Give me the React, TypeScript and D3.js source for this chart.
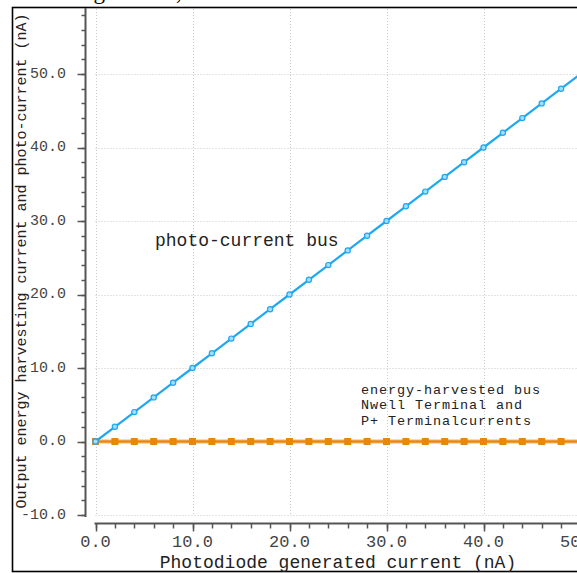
import React from "react";
import * as d3 from "d3";

const xValues = [0, 2, 4, 6, 8, 10, 12, 14, 16, 18, 20, 22, 24, 26, 28, 30, 32, 34, 36, 38, 40, 42, 44, 46, 48, 50];
const photoCurrent = [0, 2, 4, 6, 8, 10, 12, 14, 16, 18, 20, 22, 24, 26, 28, 30, 32, 34, 36, 38, 40, 42, 44, 46, 48, 50];
const harvested = [0, 0, 0, 0, 0, 0, 0, 0, 0, 0, 0, 0, 0, 0, 0, 0, 0, 0, 0, 0, 0, 0, 0, 0, 0, 0];
const xMajorTicks = [0, 10, 20, 30, 40, 50];
const xTickLabels = ["0.0", "10.0", "20.0", "30.0", "40.0", "50.0"];
const yMajorTicks = [-10, 0, 10, 20, 30, 40, 50];
const yTickLabels = ["-10.0", "0.0", "10.0", "20.0", "30.0", "40.0", "50.0"];
const xMinorTicks = [0, 2, 4, 6, 8, 10, 12, 14, 16, 18, 20, 22, 24, 26, 28, 30, 32, 34, 36, 38, 40, 42, 44, 46, 48, 50];
const yMinorTicks = [-10, -8, -6, -4, -2, 0, 2, 4, 6, 8, 10, 12, 14, 16, 18, 20, 22, 24, 26, 28, 30, 32, 34, 36, 38, 40, 42, 44, 46, 48, 50, 52, 54, 56, 58];
const harvestedLabelLines = ["energy-harvested bus", "Nwell Terminal and", "P+ Terminalcurrents"];

const MONO = "'Courier New', 'Liberation Mono', monospace";
const BLUE = "#1ea8f0";
const ORANGE = "#e8870c";

export default function App() {
  const W = 577;
  const H = 573;
  const x = d3.scaleLinear().domain([0, 50]).range([95.5, 580.5]);
  const y = d3.scaleLinear().domain([-10, 50]).range([515, 74]);
  const plotTop = 8;
  const plotBottom = 515;
  const yAxisX = 85.5;
  const xAxisY = 523.5;

  const photoPts = xValues.map((v, i) => [v, photoCurrent[i]] as [number, number]);
  const harvPts = xValues.map((v, i) => [v, harvested[i]] as [number, number]);
  const line = d3
    .line<[number, number]>()
    .x((d) => x(d[0]))
    .y((d) => y(d[1]));

  return (
    <svg
      width={W}
      height={H}
      style={{ position: "absolute", left: 0, top: 0, background: "#fff" }}
    >
      <rect x={0} y={0} width={W} height={H} fill="#fff" />
      {/* partial caption text cut off at top */}
      <text x={82} y={-1} fontFamily="'Liberation Serif', serif" fontSize={23} fill="#000">
        ng current,
      </text>
      {/* frame */}
      <rect x={12.5} y={7.5} width={700} height={564} fill="none" stroke="#000" strokeWidth={1.6} />

      {/* grid */}
      {yMajorTicks.map((t) => (
        <line
          key={"gy" + t}
          x1={x(0)}
          x2={W}
          y1={Math.round(y(t)) + 0.5}
          y2={Math.round(y(t)) + 0.5}
          stroke="#c8c8c8"
          strokeWidth={1}
          strokeDasharray="1,2"
        />
      ))}
      {xMajorTicks.map((t) => (
        <line
          key={"gx" + t}
          x1={Math.round(x(t)) + 0.5}
          x2={Math.round(x(t)) + 0.5}
          y1={plotTop + 1}
          y2={plotBottom}
          stroke="#c8c8c8"
          strokeWidth={1}
          strokeDasharray="1,2"
        />
      ))}

      {/* y axis */}
      <line x1={yAxisX} x2={yAxisX} y1={plotTop} y2={plotBottom + 2} stroke="#555" strokeWidth={2} />
      {yMinorTicks.map((t) => (
        <line
          key={"ymt" + t}
          x1={yAxisX - 4}
          x2={yAxisX}
          y1={Math.round(y(t)) + 0.5}
          y2={Math.round(y(t)) + 0.5}
          stroke="#555"
          strokeWidth={1.5}
        />
      ))}
      {yMajorTicks.map((t, i) => (
        <g key={"yt" + t}>
          <line
            x1={yAxisX - 8}
            x2={yAxisX}
            y1={Math.round(y(t)) + 0.5}
            y2={Math.round(y(t)) + 0.5}
            stroke="#555"
            strokeWidth={1.5}
          />
          <text
            x={66}
            y={y(t)}
            textAnchor="end"
            dominantBaseline="central"
            fontFamily={MONO}
            fontSize={15}
            fill="#444"
          >
            {yTickLabels[i]}
          </text>
        </g>
      ))}

      {/* x axis */}
      <line x1={x(0) - 1} x2={W} y1={xAxisY} y2={xAxisY} stroke="#555" strokeWidth={2} />
      {xMinorTicks.map((t) => (
        <line
          key={"xmt" + t}
          x1={Math.round(x(t)) + 0.5}
          x2={Math.round(x(t)) + 0.5}
          y1={xAxisY}
          y2={xAxisY + 5}
          stroke="#555"
          strokeWidth={1.5}
        />
      ))}
      {xMajorTicks.map((t, i) => (
        <g key={"xt" + t}>
          <line
            x1={Math.round(x(t)) + 0.5}
            x2={Math.round(x(t)) + 0.5}
            y1={xAxisY}
            y2={xAxisY + 8}
            stroke="#555"
            strokeWidth={1.5}
          />
          <text
            x={x(t)}
            y={547}
            textAnchor="middle"
            fontFamily={MONO}
            fontSize={17}
            fill="#444"
          >
            {xTickLabels[i]}
          </text>
        </g>
      ))}

      {/* axis titles */}
      <text
        x={338}
        y={568}
        textAnchor="middle"
        fontFamily={MONO}
        fontSize={18}
        fill="#222"
      >
        Photodiode generated current (nA)
      </text>
      <text
        transform={`translate(25.5, 261) rotate(-90)`}
        textAnchor="middle"
        fontFamily={MONO}
        fontSize={15}
        fill="#222"
      >
        Output energy harvesting current and photo-current (nA)
      </text>

      {/* orange series */}
      <path d={line(harvPts) || ""} fill="none" stroke="#f3b46a" strokeWidth={4} />
      <path d={line(harvPts) || ""} fill="none" stroke={ORANGE} strokeWidth={2} />
      {harvPts.map((d, i) => (
        <rect
          key={"hm" + i}
          x={x(d[0]) - 3.5}
          y={y(d[1]) - 3.5}
          width={7}
          height={7}
          fill={ORANGE}
        />
      ))}

      {/* blue series */}
      <path d={line(photoPts) || ""} fill="none" stroke={BLUE} strokeWidth={2.2} />
      {photoPts.map((d, i) => (
        <circle
          key={"pm" + i}
          cx={x(d[0])}
          cy={y(d[1])}
          r={2.6}
          fill="#a6dcf8"
          stroke={BLUE}
          strokeWidth={1.2}
        />
      ))}

      {/* data labels */}
      <text x={155} y={246} fontFamily={MONO} fontSize={18} fill="#222">
        photo-current bus
      </text>
      {harvestedLabelLines.map((s, i) => (
        <text
          key={"hl" + i}
          x={361}
          y={393.5 + i * 15.5}
          fontFamily={MONO}
          fontSize={13.5}
          letterSpacing={0.9}
          fill="#222"
        >
          {s}
        </text>
      ))}
    </svg>
  );
}
